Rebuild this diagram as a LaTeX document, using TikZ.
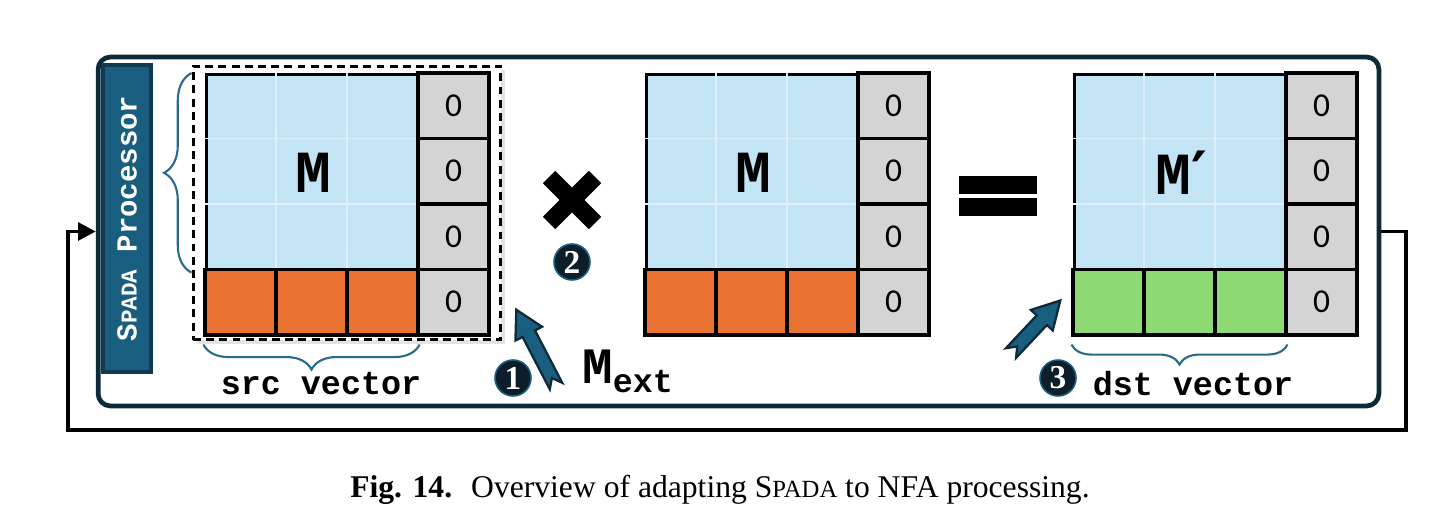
\documentclass[tikz,border=0pt]{standalone}
\usepackage{fontspec}
\setmainfont{Liberation Serif}
\setmonofont{Liberation Mono}
\newfontfamily\zerofont{Carlito}
\newfontfamily\primefont{DejaVu Sans}
\usetikzlibrary{arrows.meta,positioning,calc,decorations.pathreplacing,shadows}
\definecolor{corenavy}{HTML}{0E2A3A}
\definecolor{spadateal}{HTML}{1A5E7F}
\definecolor{spadaedge}{HTML}{0F3A50}
\definecolor{bracteal}{HTML}{2A6A8A}
\definecolor{numfill}{HTML}{0B1E2A}
\definecolor{blkfill}{HTML}{C2E4F4}
\definecolor{srcfill}{HTML}{E97132}
\definecolor{dstfill}{HTML}{8ED973}
\definecolor{zerofill}{HTML}{D4D4D4}
\newcommand{\spadasc}{S\scalebox{0.78}{PADA}}

\begin{document}
\begin{tikzpicture}[x=0.02cm, y=-0.02cm,
  core/.style={draw=corenavy, line width=2.7pt, rounded corners=7pt, minimum width=25.62cm, minimum height=6.98cm},
  spadabox/.style={draw=spadaedge, fill=spadateal, line width=1.8pt, minimum width=6.14cm, minimum height=0.96cm, text=white, font=\ttfamily\bfseries\fontsize{16.5}{16.5}\selectfont},
  blk/.style={draw, line width=1.8pt, fill=blkfill, minimum width=4.26cm, minimum height=3.93cm, inner sep=0pt, font=\ttfamily\bfseries\fontsize{34}{34}\selectfont},
  mcell/.style={draw, line width=1.8pt, minimum width=1.42cm, minimum height=1.31cm, inner sep=0pt},
  zcell/.style={mcell, fill=zerofill, font=\zerofont\fontsize{19}{19}\selectfont},
  faint/.style={draw=white!45!blkfill, line width=0.6pt},
  brc/.style={decorate, decoration={brace, amplitude=#1}, draw=bracteal, line width=1.2pt},
  veclbl/.style={font=\ttfamily\bfseries\fontsize{19}{19}\selectfont},
  numc/.style={circle, fill=numfill, draw=spadateal, line width=0.9pt, minimum size=0.72cm, inner sep=0pt, text=white, font=\bfseries\fontsize{19}{19}\selectfont},
  fb/.style={-{Triangle[length=10pt, width=10pt]}, line width=2.1pt},
  pics/blockarr/.style={code={\filldraw[fill=spadateal, draw=corenavy, line width=1.3pt] (0,-7) -- (#1-27,-7) -- (#1-27,-15) -- (#1,0) -- (#1-27,15) -- (#1-27,7) -- (0,7) -- (9,0) -- cycle;}}
]
  \useasboundingbox (0,0) rectangle (1436,524);

  % processor frame and feedback loop
  \node[core] (core) at (738.5,231.5) {};
  \node[spadabox, rotate=90] (spada) at (127,218.5) {\spadasc{} Processor};
  \coordinate (loopbl) at (68,430);
  \draw[fb] (core.east) -- ++(25,0) |- (loopbl) |- (core.west);

  % extended source matrix
  \node[draw, dashed, dash pattern=on 4.5pt off 3pt, line width=1.7pt, fill=white, minimum width=6.16cm, minimum height=5.48cm,
        drop shadow={shadow xshift=2.5pt, shadow yshift=-2.5pt, opacity=0.22}] (srcbox) at (347,203) {};

  \foreach \mx/\mn/\lbl/\vfill in {205/a/M/srcfill, 645/b/M/srcfill, 1073/c/{M{\primefont\bfseries ′}}/dstfill} {
    \node[blk, anchor=north west] (\mn-blk) at (\mx,73) {\lbl};
    \foreach \k in {1,2} {
      \draw[faint] ($(\mn-blk.north west)+(71*\k,0)$) -- ($(\mn-blk.south west)+(71*\k,0)$);
      \draw[faint] ($(\mn-blk.north west)+(0,65.5*\k)$) -- ($(\mn-blk.north east)+(0,65.5*\k)$);
    }
    \foreach \c in {0,1,2}
      \node[mcell, fill=\vfill] (\mn-v\c) at (\mx+35.5+71*\c, 302.25) {};
    \foreach \r in {0,...,3}
      \node[zcell] (\mn-z\r) at (\mx+248.5, 105.75+65.5*\r) {0};
  }

  % braces
  \draw[brc=0.55cm] (srcbox.west |- a-blk.south) -- (srcbox.west |- a-blk.north);
  \draw[brc=0.5cm] ([yshift=-0.16cm]a-v2.south east) -- ([yshift=-0.16cm]a-v0.south west);
  \draw[brc=0.4cm] ([yshift=-0.16cm]c-v2.south east) -- ([yshift=-0.16cm]c-v0.south west);
  \node[veclbl] (srclbl) at (321,384) {src vector};
  \node[veclbl] (dstlbl) at (1193,384) {dst vector};

  % operators
  \draw[line width=10pt] (549,177) -- (595,223);
  \draw[line width=10pt] (549,223) -- (595,177);
  \fill (959,176) rectangle (1037,194);
  \fill (959,198) rectangle (1037,216);

  % steps
  \pic[rotate=117.5] at (556,386) {blockarr=86};
  \pic[rotate=46.8] at (1011,353) {blockarr=72};
  \node[numc] (s1) at (513,378) {1};
  \node[numc] (s2) at (572,262) {2};
  \node[numc] (s3) at (1058,378) {3};
  \node[anchor=base west, font=\ttfamily\bfseries] (mext) at (576,383)
    {\fontsize{29}{29}\selectfont M\raisebox{-5.5pt}{\fontsize{19}{19}\selectfont ext}};

  \node (cap) at (720,490) {\fontsize{18}{20}\selectfont\textbf{Fig. 14.}\hspace{0.6em}Overview of adapting \spadasc{} to NFA processing.};
\end{tikzpicture}
\end{document}
